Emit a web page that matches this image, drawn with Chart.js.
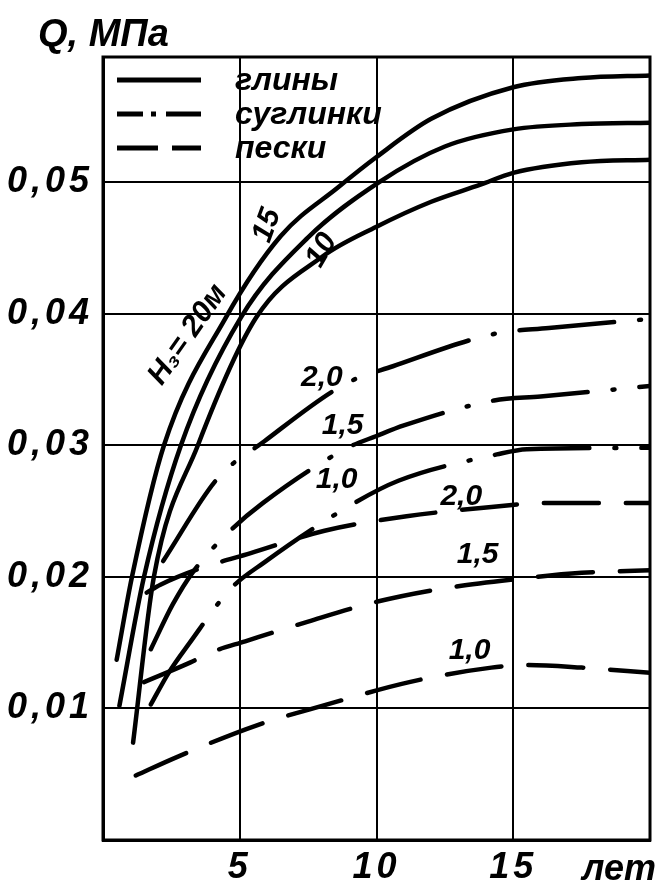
<!DOCTYPE html>
<html>
<head>
<meta charset="utf-8">
<script src="https://cdn.jsdelivr.net/npm/chart.js@4"></script>
<style>
  html, body { margin: 0; padding: 0; background: #fff; }
</style>
</head>
<body>
<canvas id="myChart" width="665" height="888"></canvas>
<script>
// глины: H3 = 20, 15, 10 м
const clay20T = [0.5, 1.06, 2.23, 4.49, 6.5, 8.6, 10, 12, 15, 17.5, 20];
const clay20Q = [0.0137, 0.0200, 0.0300, 0.0397, 0.0459, 0.0496, 0.0519, 0.0548, 0.0572, 0.0579, 0.0581];
const clay15T = [0.6, 1.5, 2.85, 5.04, 7.5, 10.1, 12.5, 15, 17.5, 20];
const clay15Q = [0.0102, 0.0200, 0.0300, 0.0397, 0.0458, 0.0500, 0.0527, 0.0540, 0.0544, 0.0545];
const clay10T = [1.1, 1.86, 3.47, 5.6, 8, 10, 12, 13.8, 15, 17.5, 20];
const clay10Q = [0.0074, 0.0200, 0.0300, 0.0397, 0.0443, 0.0466, 0.0485, 0.0498, 0.0507, 0.0515, 0.0517];

// суглинки: 2,0 / 1,5 / 1,0
const loam20T = [2.2, 4.2, 5.9, 8.9, 10.6, 14.4, 16.3, 20];
const loam20Q = [0.0212, 0.0275, 0.0303, 0.0347, 0.0360, 0.0385, 0.0389, 0.0396];
const loam15T = [1.75, 2.55, 3.3, 4.6, 5.84, 8.94, 10.0, 11.0, 14.3, 16.0, 20];
const loam15Q = [0.0145, 0.0179, 0.0204, 0.0234, 0.0256, 0.0298, 0.0307, 0.0315, 0.0334, 0.0337, 0.0345];
const loam10T = [1.75, 2.4, 3.14, 4.67, 5.9, 8.94, 10.8, 14.4, 15.5, 20];
const loam10Q = [0.0103, 0.0127, 0.0149, 0.0191, 0.0211, 0.0253, 0.0273, 0.0293, 0.0297, 0.0298];

// пески: 2,0 / 1,5 / 1,0
const sand20T = [1.6, 2.1, 3.5, 5.4, 8.1, 11.1, 14.2, 16, 20];
const sand20Q = [0.0188, 0.0194, 0.0206, 0.0218, 0.0235, 0.0246, 0.0253, 0.0256, 0.0256];
const sand15T = [1.5, 3.2, 4.0, 5.2, 7.5, 10.0, 12.4, 15, 17.5, 20];
const sand15Q = [0.0120, 0.0135, 0.0143, 0.0151, 0.0166, 0.0181, 0.0191, 0.0198, 0.0203, 0.0205];
const sand10T = [1.2, 2.7, 5.6, 8.2, 11.2, 14.2, 15.5, 17.5, 20];
const sand10Q = [0.0049, 0.0063, 0.0087, 0.0103, 0.0120, 0.0131, 0.0133, 0.0131, 0.0127];

const xTickLabels = ['5', '10', '15'];
const yTickLabels = ['0,01', '0,02', '0,03', '0,04', '0,05'];
const legendNames = ['глины', 'суглинки', 'пески'];

// подписи кривых: текст, t, Q
const curveLabelText = ['H\u2083= 20м', '15', '10', '2,0', '1,5', '1,0', '2,0', '1,5', '1,0'];
const curveLabelT = [3.1, 6.0, 8.0, 8.0, 8.76, 8.54, 13.1, 13.7, 13.4];
const curveLabelQ = [0.0384, 0.0467, 0.0448, 0.0351, 0.0315, 0.0274, 0.0261, 0.0217, 0.0144];
const curveLabelRot = [-55, -70, -60, 0, 0, 0, 0, 0, 0];

const FONT = "'Liberation Sans Narrow', 'Liberation Sans', sans-serif";
const loamDash = [95, 25, 2, 25];
const sandDash = [55, 27];

function pts(t, q) {
	return t.map((v, i) => ({ x: v, y: q[i] }));
}

function line(label, t, q, dash) {
	return {
		label: label,
		data: pts(t, q),
		borderColor: '#000',
		borderWidth: 4.5,
		borderDash: dash,
		borderCapStyle: 'round',
		borderJoinStyle: 'round',
		pointRadius: 0,
		cubicInterpolationMode: 'monotone',
		fill: false
	};
}

const decor = {
	id: 'decor',
	beforeDraw(chart) {
		chart.ctx.letterSpacing = '4px';
	},
	afterDraw(chart) {
		const ctx = chart.ctx;
		const a = chart.chartArea;
		const xs = chart.scales.x, ys = chart.scales.y;
		ctx.save();
		ctx.letterSpacing = '0px';
		ctx.strokeStyle = '#000';
		ctx.lineWidth = 3;
		ctx.strokeRect(a.left, a.top, a.right - a.left, a.bottom - a.top);

		ctx.fillStyle = '#000';
		// подписи кривых
		ctx.textAlign = 'center';
		ctx.textBaseline = 'middle';
		ctx.font = 'italic bold 30px ' + FONT;
		curveLabelText.forEach((txt, i) => {
			ctx.save();
			ctx.translate(xs.getPixelForValue(curveLabelT[i]), ys.getPixelForValue(curveLabelQ[i]));
			ctx.rotate(curveLabelRot[i] * Math.PI / 180);
			ctx.fillText(txt, 0, 0);
			ctx.restore();
		});

		// легенда
		const ly = [80, 114, 148];
		const ldash = [[], [26, 8, 5, 10, 40], [41, 14, 40]];
		ctx.lineWidth = 5;
		ctx.lineCap = 'butt';
		ly.forEach((y, i) => {
			ctx.setLineDash(ldash[i]);
			ctx.beginPath();
			ctx.moveTo(117, y);
			ctx.lineTo(201, y);
			ctx.stroke();
		});
		ctx.setLineDash([]);
		ctx.textAlign = 'left';
		ctx.font = 'italic bold 32px ' + FONT;
		legendNames.forEach((txt, i) => ctx.fillText(txt, 235, ly[i] + 1));

		// заголовок оси и единицы
		ctx.font = 'italic bold 38px ' + FONT;
		ctx.textBaseline = 'alphabetic';
		ctx.fillText('Q, МПа', 38, 46);
		ctx.font = 'italic bold 36px ' + FONT;
		ctx.fillText('лет', 582, 880);
		ctx.restore();
	}
};

new Chart(document.getElementById('myChart'), {
	type: 'line',
	data: {
		datasets: [
			line('глины 20 м', clay20T, clay20Q, []),
			line('глины 15 м', clay15T, clay15Q, []),
			line('глины 10 м', clay10T, clay10Q, []),
			line('суглинки 2,0', loam20T, loam20Q, loamDash),
			line('суглинки 1,5', loam15T, loam15Q, loamDash),
			line('суглинки 1,0', loam10T, loam10Q, loamDash),
			line('пески 2,0', sand20T, sand20Q, sandDash),
			line('пески 1,5', sand15T, sand15Q, sandDash),
			line('пески 1,0', sand10T, sand10Q, sandDash)
		]
	},
	options: {
		responsive: false,
		animation: false,
		layout: { padding: { top: 57, right: 15, left: 0, bottom: 0 } },
		plugins: { legend: { display: false }, tooltip: { enabled: false } },
		scales: {
			x: {
				type: 'linear',
				min: 0,
				max: 20,
				afterFit: s => { s.height = 48; },
				ticks: {
					stepSize: 5,
					padding: 6,
					color: '#000',
					font: { family: FONT, size: 36, style: 'italic', weight: 'bold' },
					callback: v => xTickLabels[[5, 10, 15].indexOf(v)] || ''
				},
				grid: { color: '#000', lineWidth: 2, drawTicks: false },
				border: { color: '#000', width: 3 }
			},
			y: {
				min: 0,
				max: 0.0595,
				afterFit: s => { s.width = 103; },
				ticks: {
					stepSize: 0.01,
					includeBounds: false,
					padding: 10,
					color: '#000',
					font: { family: FONT, size: 36, style: 'italic', weight: 'bold' },
					callback: v => yTickLabels[Math.round(v * 100) - 1] || ''
				},
				grid: { color: '#000', lineWidth: 2, drawTicks: false },
				border: { color: '#000', width: 3 }
			}
		}
	},
	plugins: [decor]
});
</script>
</body>
</html>
